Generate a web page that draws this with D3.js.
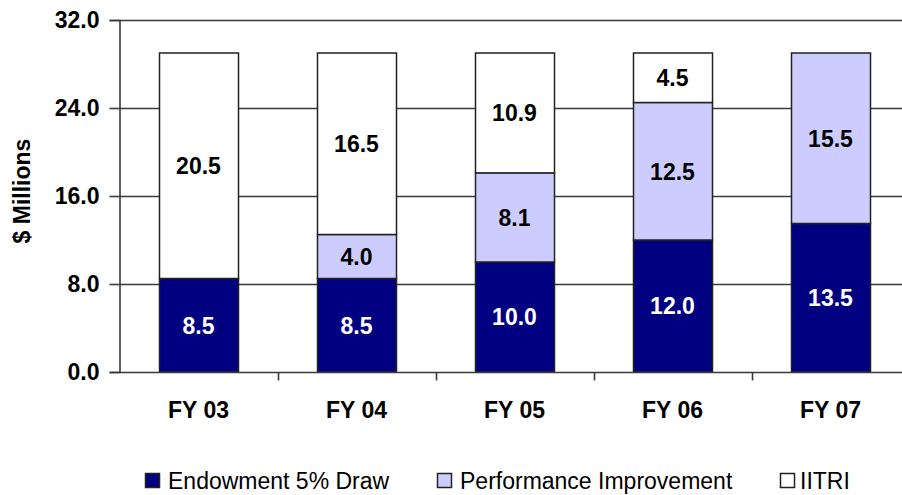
<!DOCTYPE html>
<html lang="en">
<head>
    <meta charset="UTF-8">
    <title>Funding by Source, FY03-FY07</title>
    <script src="https://d3js.org/d3.v7.min.js"></script>
    <style>
        body {
            margin: 0;
            background-color: #fff;
            font-family: "Liberation Sans", Arial, sans-serif;
        }
        .tick-label, .cat-label, .bar-label, .y-title {
            font-weight: bold;
            font-size: 23px;
        }
        .legend-label {
            font-size: 23px;
        }
    </style>
</head>
<body>
    <svg id="chart"></svg>

    <script>
        // Chart values
        const years = ["FY 03", "FY 04", "FY 05", "FY 06", "FY 07"];
        const endowment = [8.5, 8.5, 10.0, 12.0, 13.5];
        const performance = [0, 4.0, 8.1, 12.5, 15.5];
        const iitri = [20.5, 16.5, 10.9, 4.5, 0];
        const seriesNames = ["Endowment 5% Draw", "Performance Improvement", "IITRI"];
        const yTicks = [0, 8, 16, 24, 32];

        const width = 902;
        const height = 495;

        const svg = d3.select("#chart")
            .attr("width", width)
            .attr("height", height);

        // Scales
        const x = d3.scaleBand()
            .domain(years)
            .range([119.5, 909.5])
            .paddingInner(0.5)
            .paddingOuter(0.25);

        const y = d3.scaleLinear()
            .domain([0, 32])
            .range([372, 20]);

        const color = d3.scaleOrdinal()
            .domain(seriesNames)
            .range(["#000080", "#ccccff", "#ffffff"]);

        // Stack the series
        const rows = years.map((yr, i) => ({
            year: yr,
            "Endowment 5% Draw": endowment[i],
            "Performance Improvement": performance[i],
            "IITRI": iitri[i]
        }));
        const stacked = d3.stack().keys(seriesNames)(rows);

        // Gridlines
        svg.append("g")
            .selectAll("line")
            .data(yTicks.slice(1))
            .enter().append("line")
            .attr("x1", 119.5)
            .attr("x2", width)
            .attr("y1", d => Math.round(y(d)) + 0.5)
            .attr("y2", d => Math.round(y(d)) + 0.5)
            .style("stroke", "#3a3a3a")
            .style("stroke-width", 1.6);

        // Bars
        const layer = svg.append("g")
            .selectAll("g")
            .data(stacked)
            .enter().append("g")
            .style("fill", d => color(d.key));

        layer.selectAll("rect")
            .data(d => d.filter(s => s[1] - s[0] > 0))
            .enter().append("rect")
            .attr("x", d => Math.round(x(d.data.year)) + 0.5)
            .attr("y", d => y(d[1]))
            .attr("width", x.bandwidth())
            .attr("height", d => y(d[0]) - y(d[1]))
            .style("stroke", "#222")
            .style("stroke-width", 1.5);

        // Segment labels
        stacked.forEach(series => {
            svg.append("g")
                .selectAll("text")
                .data(series.filter(s => s[1] - s[0] > 0))
                .enter().append("text")
                .attr("class", "bar-label")
                .attr("x", d => x(d.data.year) + x.bandwidth() / 2)
                .attr("y", d => y((d[0] + d[1]) / 2))
                .attr("dy", "0.36em")
                .attr("text-anchor", "middle")
                .style("fill", series.key === "Endowment 5% Draw" ? "#fff" : "#000")
                .text(d => (d[1] - d[0]).toFixed(1));
        });

        // Y axis
        const yAxis = svg.append("g")
            .attr("transform", "translate(119.5,0)")
            .call(d3.axisLeft(y).tickValues(yTicks).tickFormat(d3.format(".1f")).tickSize(10).tickPadding(10));
        yAxis.select(".domain").style("stroke", "#3a3a3a").style("stroke-width", 1.6);
        yAxis.selectAll(".tick line").style("stroke", "#3a3a3a").style("stroke-width", 1.6);
        yAxis.selectAll(".tick text")
            .attr("class", "tick-label")
            .style("font-family", "'Liberation Sans', Arial, sans-serif")
            .style("fill", "#000");

        // X axis with ticks at band boundaries
        const xAxis = svg.append("g")
            .attr("transform", "translate(0,372.5)");
        xAxis.append("line")
            .attr("x1", 119.5)
            .attr("x2", width)
            .style("stroke", "#3a3a3a")
            .style("stroke-width", 1.6);
        xAxis.selectAll("line.xtick")
            .data(years.slice(1))
            .enter().append("line")
            .attr("class", "xtick")
            .attr("x1", d => Math.round(x(d) - x.step() * x.paddingInner() / 2) + 0.5)
            .attr("x2", d => Math.round(x(d) - x.step() * x.paddingInner() / 2) + 0.5)
            .attr("y1", 0)
            .attr("y2", 8)
            .style("stroke", "#3a3a3a")
            .style("stroke-width", 1.6);
        xAxis.selectAll("text")
            .data(years)
            .enter().append("text")
            .attr("class", "cat-label")
            .attr("x", d => x(d) + x.bandwidth() / 2)
            .attr("y", 45.5)
            .attr("text-anchor", "middle")
            .text(d => d);

        // Y axis title
        svg.append("text")
            .attr("class", "y-title")
            .attr("transform", "translate(30,191) rotate(-90)")
            .attr("text-anchor", "middle")
            .text("$ Millions");

        // Legend
        const legendX = [145, 437, 780];
        const legend = svg.append("g")
            .selectAll("g")
            .data(seriesNames)
            .enter().append("g")
            .attr("transform", (d, i) => `translate(${legendX[i]},473)`);
        legend.append("rect")
            .attr("x", 0.5)
            .attr("y", 0.5)
            .attr("width", 14)
            .attr("height", 14)
            .style("fill", d => color(d))
            .style("stroke", "#222")
            .style("stroke-width", 1.5);
        legend.append("text")
            .attr("class", "legend-label")
            .attr("x", (d, i) => i === 2 ? 20 : 23)
            .attr("y", 16)
            .text(d => d);
    </script>
</body>
</html>
